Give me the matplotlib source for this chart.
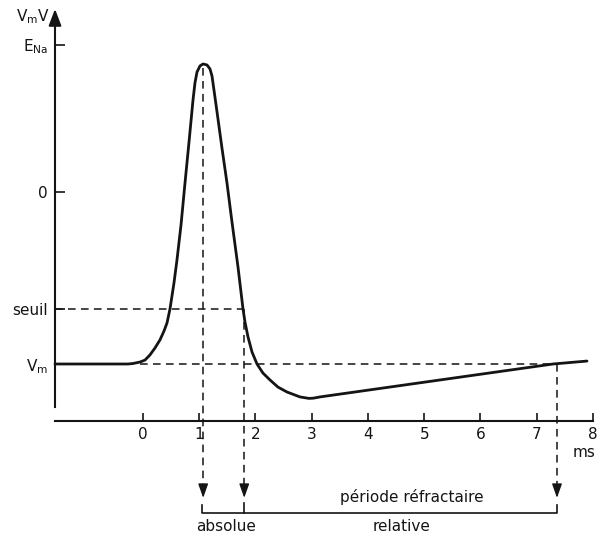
import matplotlib.pyplot as plt

# membrane potential trace (time in ms, potential in mV)
t_ms = [-1.564, -0.267, -0.178, -0.053, 0.036, 0.124, 0.213, 0.302, 0.373, 0.427,
        0.480, 0.551, 0.604, 0.676, 0.747, 0.818, 0.889, 0.924, 0.960, 1.013,
        1.067, 1.138, 1.191, 1.227, 1.262, 1.316, 1.404, 1.493, 1.582, 1.689,
        1.778, 1.813, 1.867, 1.938, 2.027, 2.133, 2.258, 2.400, 2.560, 2.791,
        2.951, 3.031, 3.147, 7.289, 7.893]
v_mv = [-70.0, -70.0, -69.8, -69.2, -68.4, -66.3, -63.5, -60.2, -56.6, -53.3,
        -47.6, -37.0, -27.7, -13.4, 3.7, 20.3, 37.4, 44.4, 48.8, 51.3,
        52.1, 51.7, 50.1, 47.2, 41.5, 32.6, 17.9, 3.7, -12.2, -30.5,
        -47.6, -52.9, -59.0, -65.1, -70.0, -73.7, -76.5, -79.4, -81.4, -83.4,
        -84.0, -83.9, -83.4, -70.0, -68.8]

# reference levels on the potential axis
v_levels = [-70, -47.6, 0, 60]
v_labels = [r'V$_\mathregular{m}$', 'seuil', '0', r'E$_\mathregular{Na}$']

# time axis ticks
t_ticks = [0, 1, 2, 3, 4, 5, 6, 7, 8]

# refractory period limits (ms)
t_peak = 1.07
t_abs_end = 1.80
t_rel_end = 7.36
v_peak = 50.5

ink = '#141414'
fs = 11
plt.rcParams['font.family'] = ['DejaVu Sans']

fig = plt.figure(figsize=(5.98, 5.36), dpi=100)
ax = fig.add_axes([0, 0, 1, 1])
ax.set_xlim(-2.542, 8.089)
ax.set_ylim(-140.0, 78.14)

x_axis_t = -1.564      # where the potential axis stands
y_axis_v = -93.2       # where the time axis lies

# axes drawn as spines, the two lines do not meet
for side in ['top', 'right']:
    ax.spines[side].set_visible(False)
ax.spines['left'].set_position(('data', x_axis_t))
ax.spines['left'].set_bounds(-87.5, 70)
ax.spines['bottom'].set_position(('data', y_axis_v))
ax.spines['bottom'].set_bounds(x_axis_t, 8.0)
for side in ['left', 'bottom']:
    ax.spines[side].set_linewidth(1.5)
    ax.spines[side].set_color(ink)

ax.set_xticks(t_ticks)
ax.set_xticklabels([str(t) for t in t_ticks])
ax.set_yticks(v_levels)
ax.set_yticklabels(v_labels)
ax.tick_params(axis='x', direction='in', length=6, width=1.2, pad=4,
               labelsize=fs, colors=ink)
ax.tick_params(axis='y', direction='in', length=7, width=1.2, pad=5,
               labelsize=fs, colors=ink)

# arrow head on top of the potential axis
ax.annotate('', xy=(x_axis_t, 74.5), xytext=(x_axis_t, 68),
            arrowprops=dict(arrowstyle='-|>,head_length=1.0,head_width=0.38',
                            color=ink, lw=1.5, shrinkA=0, shrinkB=0))
ax.text(x_axis_t - 0.1, 71.5, r'V$_\mathregular{m}$V', ha='right', va='center',
        fontsize=fs, color=ink)
ax.text(8.05, -106.2, 'ms', ha='right', va='center', fontsize=fs, color=ink)

# the action potential
ax.plot(t_ms, v_mv, color=ink, lw=2.0, solid_joinstyle='round',
        solid_capstyle='round')

dash = dict(color=ink, lw=1.1, dashes=(5, 3.5))
# horizontal guides
ax.plot([x_axis_t, t_abs_end], [v_levels[1]] * 2, **dash)
ax.plot([-0.05, t_rel_end], [v_levels[0]] * 2, **dash)

# vertical guides with arrow heads
tip_v = -124.5
for t0, v0 in [(t_peak, v_peak), (t_abs_end, v_levels[1]), (t_rel_end, v_levels[0])]:
    ax.plot([t0, t0], [v0, tip_v + 4], **dash)
    ax.annotate('', xy=(t0, tip_v), xytext=(t0, tip_v + 4.5),
                arrowprops=dict(arrowstyle='-|>,head_length=0.85,head_width=0.3',
                                color=ink, lw=1.0, shrinkA=0, shrinkB=0))

# bracket for the refractory periods
br_v = -130.6
ax.plot([t_peak - 0.02, t_peak - 0.02, t_rel_end, t_rel_end],
        [-127.4, br_v, br_v, -127.4], color=ink, lw=1.2)
ax.plot([t_abs_end, t_abs_end], [-126.5, br_v], color=ink, lw=1.2)

ax.text(4.78, -124.0, 'période réfractaire', ha='center', va='center',
        fontsize=fs, color=ink)
ax.text((t_peak + t_abs_end) / 2 + 0.04, -136.0, 'absolue', ha='center',
        va='center', fontsize=fs, color=ink)
ax.text(4.60, -136.0, 'relative', ha='center', va='center', fontsize=fs,
        color=ink)

fig.savefig('out.png', dpi=100)
